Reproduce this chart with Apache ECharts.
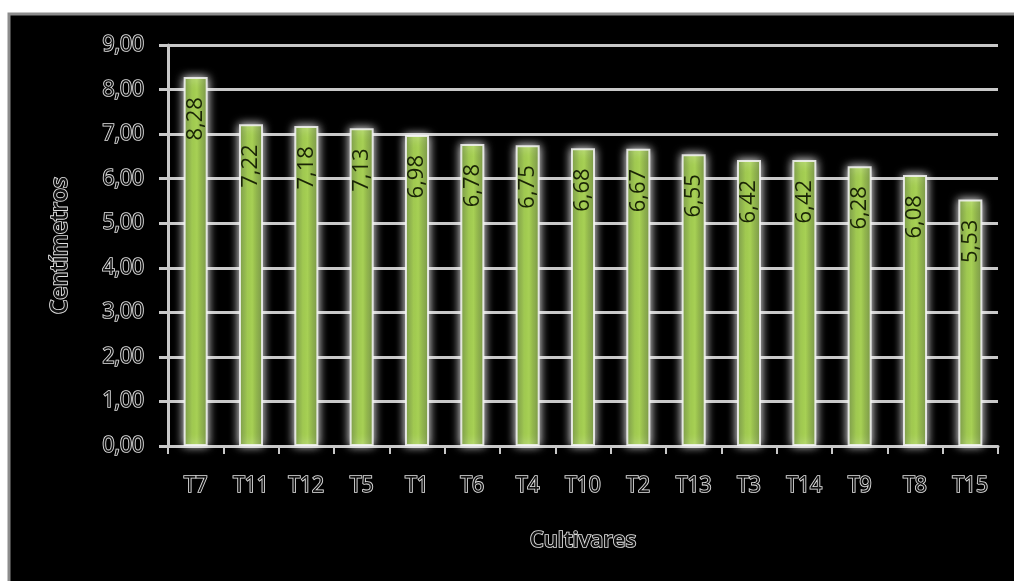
<!DOCTYPE html>
<html>
<head>
<meta charset="utf-8">
<script src="https://cdn.jsdelivr.net/npm/echarts@6/dist/echarts.min.js"></script>
<style>
html,body{margin:0;padding:0;background:#fff;}
#chart{width:1014px;height:581px;}
</style>
</head>
<body>
<div id="chart"></div>
<script>
const categories = ['T7','T11','T12','T5','T1','T6','T4','T10','T2','T13','T3','T14','T9','T8','T15'];
const values = [8.28,7.22,7.18,7.13,6.98,6.78,6.75,6.68,6.67,6.55,6.42,6.42,6.28,6.08,5.53];
const yTicks = [0,1,2,3,4,5,6,7,8,9];
const yAxisTitle = 'Centímetros';
const xAxisTitle = 'Cultivares';

const FONT = '"Open Sans", "DejaVu Sans", sans-serif';
const outlineText = {
  color: '#111111',
  textBorderColor: '#e2e2e2',
  textBorderWidth: 1.7,
  fontFamily: FONT,
  fontSize: 21
};
const fmt = v => Number(v).toFixed(2).replace('.', ',');

const chart = echarts.init(document.getElementById('chart'), null, {renderer: 'canvas'});
chart.setOption({
  backgroundColor: '#ffffff',
  animation: false,
  graphic: [{
    type: 'rect', z: -10, silent: true,
    shape: {x: 9, y: 14, width: 1030, height: 600},
    style: {fill: '#000', stroke: '#8c8c8c', lineWidth: 3}
  }],
  grid: {left: 168, right: 16, top: 45, bottom: 135},
  xAxis: {
    type: 'category',
    data: categories,
    name: xAxisTitle,
    nameLocation: 'middle',
    nameGap: 84,
    nameTextStyle: Object.assign({}, outlineText, {fontSize: 22, fontWeight: 600}),
    axisLine: {show: true, lineStyle: {color: '#c8c8c8', width: 3}},
    axisTick: {show: true, length: 8, alignWithLabel: false, lineStyle: {color: '#c8c8c8', width: 2}},
    axisLabel: Object.assign({}, outlineText, {margin: 30}),
    splitLine: {show: false}
  },
  yAxis: {
    type: 'value',
    min: 0, max: 9, interval: 1,
    name: yAxisTitle,
    nameLocation: 'middle',
    nameGap: 96,
    nameRotate: 90,
    nameTextStyle: Object.assign({}, outlineText, {fontSize: 23, fontWeight: 600}),
    axisLine: {show: true, lineStyle: {color: '#c8c8c8', width: 3}},
    axisTick: {show: true, length: 9, lineStyle: {color: '#c8c8c8', width: 3}},
    axisLabel: Object.assign({}, outlineText, {margin: 24, formatter: v => fmt(v)}),
    splitLine: {show: true, lineStyle: {color: '#c8c8c8', width: 3}}
  },
  series: [{
    type: 'bar',
    data: values,
    barWidth: 24,
    itemStyle: {
      color: new echarts.graphic.LinearGradient(0, 0, 1, 0, [
        {offset: 0, color: '#5f8424'},
        {offset: 0.35, color: '#9cc64a'},
        {offset: 0.55, color: '#a6d052'},
        {offset: 1, color: '#5d7f22'}
      ]),
      borderColor: 'rgba(245,245,245,0.85)',
      borderWidth: 2,
      shadowColor: 'rgba(255,255,255,1)',
      shadowBlur: 10
    },
    label: {
      show: true,
      position: 'insideTop',
      distance: 20,
      rotate: 90,
      align: 'right',
      verticalAlign: 'middle',
      color: '#1a2406',
      fontFamily: FONT,
      fontSize: 22,
      formatter: p => fmt(p.value)
    }
  }]
});
</script>
</body>
</html>
